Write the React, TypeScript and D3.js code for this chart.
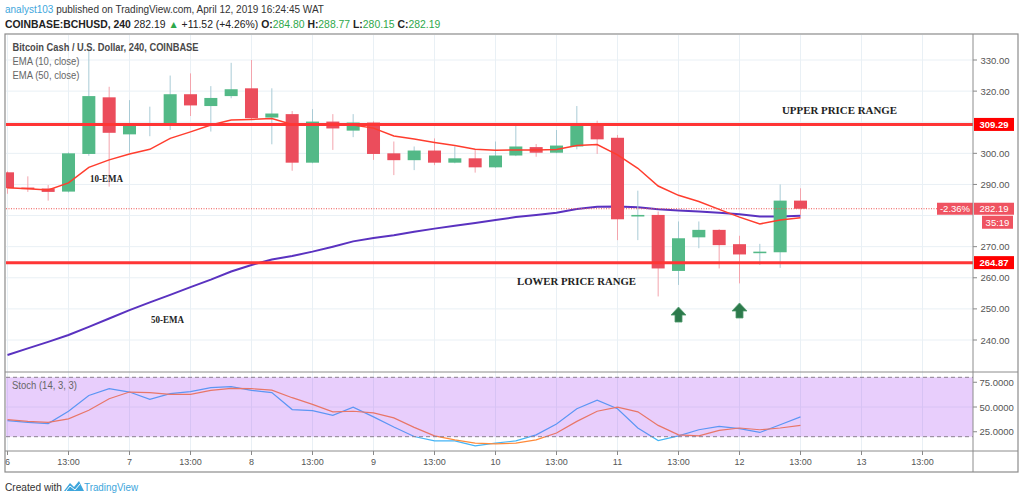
import React from "react";
import * as d3 from "d3";

// 4h candles, COINBASE:BCHUSD, April 6 01:00 -> April 12 13:00 (WAT)
const opens = [293.9, 289.0, 288.7, 287.7, 299.8, 318.0, 306.1, 309.0, 309.1, 319.0, 315.2, 318.4, 320.9, 311.5, 312.6, 297.0, 310.2, 307.3, 309.9, 300.0, 297.8, 300.9, 297.0, 298.4, 295.5, 299.3, 302.0, 300.2, 302.2, 309.1, 305.0, 279.7, 280.2, 262.2, 273.0, 275.4, 270.8, 267.9, 268.2, 284.8];
const highs = [294.2, 292.6, 289.8, 300.3, 333.2, 321.4, 317.1, 315.0, 325.0, 325.7, 321.6, 329.1, 330.0, 320.9, 313.6, 314.2, 312.6, 312.6, 310.3, 303.8, 302.2, 304.8, 302.2, 301.1, 303.8, 308.8, 303.0, 307.5, 315.2, 310.5, 305.9, 288.0, 281.3, 278.1, 278.1, 275.6, 273.5, 270.9, 290.0, 288.77];
const lows = [287.0, 287.6, 284.8, 287.4, 299.2, 289.3, 300.2, 305.5, 307.5, 312.0, 307.0, 317.7, 311.0, 302.9, 294.4, 296.8, 301.1, 305.2, 297.9, 293.0, 294.6, 296.2, 296.8, 293.8, 295.3, 299.1, 298.9, 300.0, 301.3, 299.8, 272.1, 272.1, 254.0, 257.7, 269.5, 263.0, 258.2, 264.1, 263.2, 280.15];
const closes = [288.8, 288.5, 287.6, 300.0, 318.4, 306.6, 309.1, 309.4, 319.0, 315.4, 317.8, 320.6, 311.3, 312.8, 297.0, 310.2, 308.0, 309.9, 299.8, 297.8, 300.9, 297.0, 298.4, 295.5, 299.3, 302.2, 300.2, 302.5, 309.1, 304.5, 278.8, 280.2, 263.0, 272.7, 275.4, 270.5, 267.5, 268.4, 284.8, 282.19];

const ema10 = [288.9, 288.6, 288.2, 290.5, 295.5, 297.9, 299.8, 301.3, 304.8, 306.9, 309.1, 310.7, 310.9, 311.2, 309.3, 309.1, 309.1, 309.1, 308.1, 305.6, 304.6, 303.5, 302.5, 301.3, 301.0, 301.1, 301.1, 301.2, 302.5, 302.8, 299.5, 295.2, 289.5, 286.5, 284.5, 282.0, 279.5, 277.3, 278.6, 279.3];
const ema50 = [235.2, 237.3, 239.4, 241.6, 244.2, 246.9, 249.6, 252.1, 254.5, 257.0, 259.4, 262.0, 264.1, 265.9, 267.0, 268.4, 270.0, 271.7, 272.8, 273.7, 274.8, 275.8, 276.7, 277.6, 278.6, 279.5, 280.2, 280.9, 282.1, 282.8, 282.9, 282.7, 282.0, 281.6, 281.3, 280.9, 280.4, 279.7, 279.7, 279.9];

const stochK = [36.2, 34.5, 33.2, 45.7, 61.7, 68.5, 65.1, 57.7, 63.5, 65.5, 69.6, 70.6, 66.8, 64.5, 47.4, 46.4, 41.6, 49.8, 40.0, 29.8, 20.2, 15.8, 15.8, 10.7, 13.5, 15.8, 21.9, 32.9, 48.2, 56.9, 48.2, 28.8, 16.1, 20.9, 27.0, 30.4, 28.1, 24.3, 32.1, 40.0];
const stochD = [37.2, 35.5, 34.5, 38.0, 46.7, 58.4, 65.1, 64.5, 62.8, 62.8, 66.8, 68.9, 68.5, 67.1, 59.4, 52.6, 45.1, 45.7, 44.1, 39.0, 29.4, 20.9, 16.8, 13.5, 12.8, 13.5, 16.8, 23.7, 35.5, 45.7, 49.8, 45.1, 31.4, 21.9, 20.9, 26.3, 28.8, 27.0, 28.8, 31.4];

const priceTicks = [240, 250, 260, 270, 280, 290, 300, 310, 320, 330];
const stochTicks = [25, 50, 75];
const stochBands = [20, 80];
const dayLabels = ["6", "7", "8", "9", "10", "11", "12", "13"];

const upperRange = 309.29;
const lowerRange = 264.87;
const lastPrice = 282.19;
const arrowBars = [33, 36];
const arrowTips = [250.6, 251.9];

const W = 1024;
const H = 501;
const LEFT = 6;
const AXIS_X = 973;
const RIGHT = 1018;
const TOP = 35;
const MAIN_BOTTOM = 372;
const STOCH_BOTTOM = 451;
const FRAME_BOTTOM = 472;

const UP = "#53b987";
const DOWN = "#eb4d5c";
const GREEN_TXT = "#2ea84a";
const SANS = "'Liberation Sans', Arial, sans-serif";
const SERIF = "'Liberation Serif', 'Times New Roman', serif";

const App = () => {
  const idx = d3.range(closes.length);
  const x = d3.scaleLinear().domain([0, closes.length - 1]).range([7.5, 800.5]);
  const step = x(1) - x(0);
  const y = d3.scaleLinear().domain([240, 330]).range([340, 60]);
  const ys = d3.scaleLinear().domain([20, 80]).range([436.7, 377.3]);

  const tickIdx = d3.range(0, 46, 3);
  const tickLabel = (i: number) => (i % 6 === 0 ? dayLabels[i / 6] : "13:00");

  const lineMain = (vals: number[]) =>
    d3.line<number>().x((_, i) => x(i)).y((v) => y(v))(vals) || "";
  const lineStoch = (vals: number[]) =>
    d3.line<number>().x((_, i) => x(i)).y((v) => ys(v))(vals) || "";

  const bodyW = step * 0.64;

  // axis labels hidden behind the coloured price boxes
  const boxYs = [y(upperRange), y(lowerRange), y(lastPrice), y(lastPrice) + 13];
  const shownTicks = priceTicks.filter((p) => boxYs.every((b) => Math.abs(y(p) - b) > 9));

  return (
    <svg width={W} height={H} style={{ position: "absolute", left: 0, top: 0, background: "#fff" }}>
      <defs>
        <clipPath id="mainClip">
          <rect x={LEFT} y={TOP} width={AXIS_X - LEFT} height={MAIN_BOTTOM - TOP} />
        </clipPath>
        <clipPath id="stochClip">
          <rect x={LEFT} y={MAIN_BOTTOM} width={AXIS_X - LEFT} height={STOCH_BOTTOM - MAIN_BOTTOM} />
        </clipPath>
      </defs>

      {/* header */}
      <text x={5} y={13} fontFamily={SANS} fontSize={10} fill="#333">
        <tspan fill="#3ea6dc">analyst103</tspan> published on TradingView.com, April 12, 2019 16:24:45 WAT
      </text>
      <text x={5} y={28} fontFamily={SANS} fontSize={10.4} fill="#222">
        <tspan fontWeight="bold">COINBASE:BCHUSD, 240</tspan> 282.19 <tspan fill={GREEN_TXT}>▲</tspan> +11.52 (+4.26%) <tspan fontWeight="bold">O:</tspan>
        <tspan fill={GREEN_TXT}>284.80</tspan> <tspan fontWeight="bold">H:</tspan><tspan fill={GREEN_TXT}>288.77</tspan> <tspan fontWeight="bold">L:</tspan>
        <tspan fill={GREEN_TXT}>280.15</tspan> <tspan fontWeight="bold">C:</tspan><tspan fill={GREEN_TXT}>282.19</tspan>
      </text>

      {/* grid */}
      <g stroke="#e9f0f5" strokeWidth={1}>
        {tickIdx.map((i) => (
          <line key={"vg" + i} x1={x(i)} x2={x(i)} y1={TOP} y2={STOCH_BOTTOM} />
        ))}
        {priceTicks.map((p) => (
          <line key={"hg" + p} x1={LEFT} x2={AXIS_X} y1={y(p)} y2={y(p)} />
        ))}
      </g>

      {/* main pane */}
      <g clipPath="url(#mainClip)">
        <path d={lineMain(ema50)} fill="none" stroke="#5a32c0" strokeWidth={2} />
        {idx.map((i) => {
          const up = closes[i] >= opens[i];
          const top = y(Math.max(opens[i], closes[i]));
          const bot = y(Math.min(opens[i], closes[i]));
          return (
            <g key={"c" + i}>
              <line x1={x(i)} x2={x(i)} y1={y(highs[i])} y2={y(lows[i])} stroke={up ? "#a9cbd6" : "#f3a4ad"} strokeWidth={1} />
              <rect x={x(i) - bodyW / 2} y={top} width={bodyW} height={Math.max(1.5, bot - top)} fill={up ? UP : DOWN} />
            </g>
          );
        })}
        <path d={lineMain(ema10)} fill="none" stroke="#ff3d2e" strokeWidth={1.5} />
        <line x1={LEFT} x2={AXIS_X} y1={y(upperRange)} y2={y(upperRange)} stroke="#ff3535" strokeWidth={3} />
        <line x1={LEFT} x2={AXIS_X} y1={y(lowerRange)} y2={y(lowerRange)} stroke="#ff3535" strokeWidth={3} />
        <line x1={LEFT} x2={AXIS_X} y1={y(lastPrice)} y2={y(lastPrice)} stroke="#ef5350" strokeWidth={1} strokeDasharray="1,1.5" />
        {arrowBars.map((b, k) => {
          const cx = x(b);
          const ty = y(arrowTips[k]);
          return (
            <path
              key={"ar" + b}
              d={`M${cx},${ty} L${cx + 7.5},${ty + 8} L${cx + 3.5},${ty + 8} L${cx + 3.5},${ty + 15} L${cx - 3.5},${ty + 15} L${cx - 3.5},${ty + 8} L${cx - 7.5},${ty + 8} Z`}
              fill="#2d7a4c"
              stroke="#4f9a6c"
              strokeWidth={0.8}
            />
          );
        })}
      </g>

      {/* annotations */}
      <g fontFamily={SERIF} fontWeight="bold" fontSize={11} fill="#222">
        <text x={782} y={114} textLength={115} lengthAdjust="spacingAndGlyphs">UPPER PRICE RANGE</text>
        <text x={517} y={285} textLength={119} lengthAdjust="spacingAndGlyphs">LOWER PRICE RANGE</text>
        <text x={90} y={181.5} textLength={33} lengthAdjust="spacingAndGlyphs">10-EMA</text>
        <text x={151} y={322.5} textLength={33} lengthAdjust="spacingAndGlyphs">50-EMA</text>
      </g>

      {/* legend */}
      <g fontFamily={SANS} fontSize={11}>
        <text x={12.5} y={51} fill="#4a4a4a" fontWeight="bold" textLength={186} lengthAdjust="spacingAndGlyphs">Bitcoin Cash / U.S. Dollar, 240, COINBASE</text>
        <text x={12.5} y={64.5} fill="#666" textLength={67} lengthAdjust="spacingAndGlyphs">EMA (10, close)</text>
        <text x={12.5} y={78.5} fill="#666" textLength={67} lengthAdjust="spacingAndGlyphs">EMA (50, close)</text>
      </g>

      {/* stoch pane */}
      <g clipPath="url(#stochClip)">
        <line x1={LEFT} x2={AXIS_X} y1={ys(50)} y2={ys(50)} stroke="#e9f0f5" />
        <path d={lineStoch(stochK)} fill="none" stroke="#45b4f5" strokeWidth={1.2} />
        <path d={lineStoch(stochD)} fill="none" stroke="#ff8a3a" strokeWidth={1.2} />
        <rect x={LEFT} y={ys(80)} width={AXIS_X - LEFT} height={ys(20) - ys(80)} fill="rgba(165,60,245,0.25)" />
        {stochBands.map((b) => (
          <line key={"sb" + b} x1={LEFT} x2={AXIS_X} y1={ys(b)} y2={ys(b)} stroke="#8a7f8f" strokeDasharray="4,3" strokeWidth={1} />
        ))}
      </g>
      <text x={12} y={389} fontFamily={SANS} fontSize={11} fill="#666" textLength={65} lengthAdjust="spacingAndGlyphs">Stoch (14, 3, 3)</text>

      {/* price axis */}
      <g fontFamily={SANS} fontSize={9.5} fill="#555">
        {shownTicks.map((p) => (
          <g key={"pt" + p}>
            <line x1={AXIS_X} x2={AXIS_X + 4} y1={y(p)} y2={y(p)} stroke="#888" />
            <text x={980.5} y={y(p) + 3.5}>{p.toFixed(2)}</text>
          </g>
        ))}
        {stochTicks.map((s) => (
          <g key={"st" + s}>
            <line x1={AXIS_X} x2={AXIS_X + 4} y1={ys(s)} y2={ys(s)} stroke="#888" />
            <text x={979.5} y={ys(s) + 3.5}>{s.toFixed(4)}</text>
          </g>
        ))}
      </g>

      {/* axis price labels */}
      {[upperRange, lowerRange].map((p) => (
        <g key={"lbl" + p}>
          <rect x={974} y={y(p) - 6.5} width={40} height={13} fill="#ff0000" />
          <text x={994} y={y(p) + 3.5} textAnchor="middle" fontFamily={SANS} fontSize={9.5} fontWeight="bold" fill="#fff">{p.toFixed(2)}</text>
        </g>
      ))}
      <rect x={937} y={y(lastPrice) - 6} width={36} height={12} fill="#ef5361" />
      <text x={955} y={y(lastPrice) + 3.5} textAnchor="middle" fontFamily={SANS} fontSize={9.5} fill="#fff">-2.36%</text>
      <rect x={974} y={y(lastPrice) - 6} width={40} height={12} fill="#ef5361" />
      <text x={994} y={y(lastPrice) + 3.5} textAnchor="middle" fontFamily={SANS} fontSize={9.5} fill="#fff">{lastPrice.toFixed(2)}</text>
      <rect x={982} y={y(lastPrice) + 7} width={31} height={13} fill="#ef5361" />
      <text x={997.5} y={y(lastPrice) + 17} textAnchor="middle" fontFamily={SANS} fontSize={9.5} fill="#fff">35:19</text>

      {/* time axis */}
      <g fontFamily={SANS} fontSize={9} fill="#555">
        {tickIdx.map((i) => (
          <g key={"tt" + i}>
            <line x1={x(i)} x2={x(i)} y1={STOCH_BOTTOM} y2={STOCH_BOTTOM + 4} stroke="#888" />
            <text x={x(i)} y={465} textAnchor="middle">{tickLabel(i)}</text>
          </g>
        ))}
      </g>

      {/* frame and separators */}
      <g stroke="#8c8c8c" fill="none">
        <rect x={5} y={34} width={RIGHT - 5} height={FRAME_BOTTOM - 34} strokeWidth={1.2} />
        <line x1={AXIS_X} x2={AXIS_X} y1={34} y2={FRAME_BOTTOM} />
        <line x1={5} x2={RIGHT} y1={MAIN_BOTTOM} y2={MAIN_BOTTOM} />
        <line x1={5} x2={RIGHT} y1={STOCH_BOTTOM} y2={STOCH_BOTTOM} />
      </g>

      {/* footer */}
      <text x={5} y={491} fontFamily={SANS} fontSize={11.5} fill="#333" textLength={57} lengthAdjust="spacingAndGlyphs">Created with</text>
      <path d="M64,491 L70,483 L74,487 L79,481 L84,491 Z" fill="#3ea6dc" />
      <path d="M66,491 L70,486 L75,490 L80,484" fill="none" stroke="#fff" strokeWidth={1} />
      <text x={84} y={491} fontFamily={SANS} fontSize={11.5} fill="#3ea6dc" textLength={54} lengthAdjust="spacingAndGlyphs">TradingView</text>
    </svg>
  );
};

export default App;
